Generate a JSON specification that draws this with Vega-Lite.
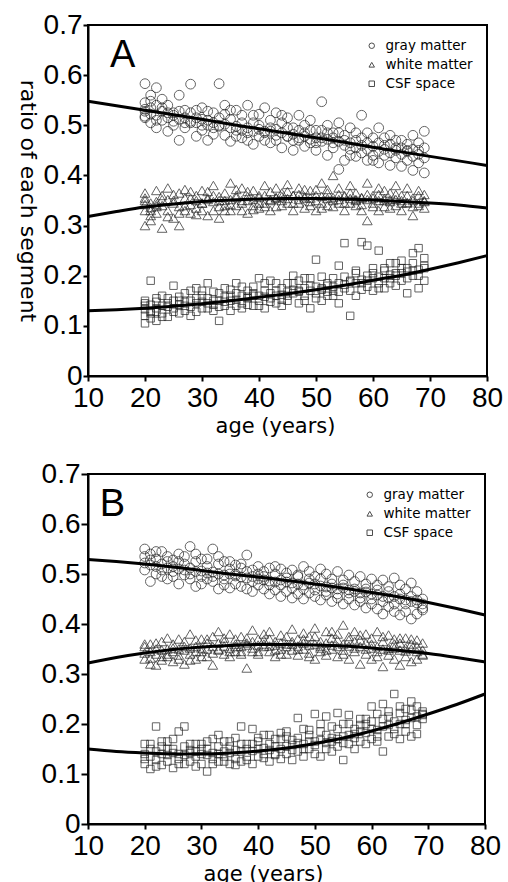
{
  "$schema": "https://vega.github.io/schema/vega-lite/v6.json",
  "background": "white",
  "padding": {"left": 15, "top": 10, "right": 0, "bottom": 0},
  "spacing": 22,
  "config": {
    "view": {"stroke": "black", "strokeWidth": 2},
    "axis": {
      "grid": false,
      "labelFont": "Liberation Sans",
      "labelFontSize": 28,
      "labelColor": "black",
      "labelFlush": false,
      "labelOverlap": false,
      "domainColor": "black",
      "domainWidth": 2,
      "tickColor": "black",
      "tickWidth": 2,
      "tickSize": 5,
      "titleFont": "DejaVu Sans",
      "titleFontWeight": "normal",
      "titleFontSize": 21,
      "titleColor": "black"
    },
    "legend": {
      "orient": "top-right",
      "offset": 14,
      "padding": 0,
      "labelFont": "DejaVu Sans",
      "labelFontSize": 13.5,
      "labelColor": "black",
      "symbolSize": 30,
      "symbolStrokeColor": "black",
      "symbolStrokeWidth": 1,
      "rowPadding": 4,
      "labelOffset": 7
    }
  },
  "resolve": {"scale": {"shape": "independent"}, "legend": {"shape": "independent"}},
  "datasets": {
    "A": [
      {"a":20,"g":0.583,"w":0.33,"c":0.12},{"a":20,"g":0.545,"w":0.35,"c":0.105},{"a":20,"g":0.515,"w":0.3,"c":0.15},{"a":20,"g":0.528,"w":0.365,"c":0.14},{"a":20,"g":0.532,"w":0.342,"c":0.133},{"a":20,"g":0.518,"w":0.355,"c":0.145},
      {"a":21,"g":0.56,"w":0.32,"c":0.19},{"a":21,"g":0.505,"w":0.345,"c":0.128},{"a":21,"g":0.535,"w":0.31,"c":0.115},{"a":21,"g":0.522,"w":0.336,"c":0.142},{"a":21,"g":0.548,"w":0.33,"c":0.125},
      {"a":22,"g":0.575,"w":0.338,"c":0.11},{"a":22,"g":0.52,"w":0.37,"c":0.155},{"a":22,"g":0.495,"w":0.325,"c":0.135},{"a":22,"g":0.54,"w":0.348,"c":0.128},{"a":22,"g":0.51,"w":0.342,"c":0.148},
      {"a":23,"g":0.552,"w":0.295,"c":0.16},{"a":23,"g":0.51,"w":0.36,"c":0.125},{"a":23,"g":0.528,"w":0.34,"c":0.14},{"a":23,"g":0.535,"w":0.352,"c":0.118},
      {"a":24,"g":0.54,"w":0.375,"c":0.145},{"a":24,"g":0.488,"w":0.33,"c":0.118},{"a":24,"g":0.515,"w":0.352,"c":0.138},{"a":24,"g":0.525,"w":0.318,"c":0.155},
      {"a":25,"g":0.525,"w":0.35,"c":0.18},{"a":25,"g":0.5,"w":0.315,"c":0.135},{"a":25,"g":0.52,"w":0.345,"c":0.15},{"a":25,"g":0.508,"w":0.362,"c":0.128},
      {"a":26,"g":0.56,"w":0.365,"c":0.125},{"a":26,"g":0.47,"w":0.3,"c":0.15},{"a":26,"g":0.512,"w":0.338,"c":0.142},{"a":26,"g":0.528,"w":0.325,"c":0.158},
      {"a":27,"g":0.53,"w":0.34,"c":0.165},{"a":27,"g":0.495,"w":0.372,"c":0.14},{"a":27,"g":0.515,"w":0.355,"c":0.148},{"a":27,"g":0.505,"w":0.33,"c":0.13},
      {"a":28,"g":0.582,"w":0.325,"c":0.17},{"a":28,"g":0.505,"w":0.355,"c":0.12},{"a":28,"g":0.508,"w":0.342,"c":0.15},{"a":28,"g":0.525,"w":0.368,"c":0.138},
      {"a":29,"g":0.515,"w":0.36,"c":0.155},{"a":29,"g":0.478,"w":0.335,"c":0.175},{"a":29,"g":0.505,"w":0.35,"c":0.145},{"a":29,"g":0.53,"w":0.322,"c":0.128},
      {"a":30,"g":0.535,"w":0.345,"c":0.135},{"a":30,"g":0.49,"w":0.37,"c":0.16},{"a":30,"g":0.512,"w":0.345,"c":0.148},{"a":30,"g":0.5,"w":0.33,"c":0.17},
      {"a":31,"g":0.51,"w":0.32,"c":0.185},{"a":31,"g":0.47,"w":0.355,"c":0.145},{"a":31,"g":0.5,"w":0.352,"c":0.155},{"a":31,"g":0.528,"w":0.368,"c":0.135},
      {"a":32,"g":0.525,"w":0.38,"c":0.13},{"a":32,"g":0.495,"w":0.33,"c":0.15},{"a":32,"g":0.505,"w":0.348,"c":0.142},{"a":32,"g":0.482,"w":0.36,"c":0.168},
      {"a":33,"g":0.583,"w":0.35,"c":0.11},{"a":33,"g":0.5,"w":0.315,"c":0.165},{"a":33,"g":0.498,"w":0.358,"c":0.15},{"a":33,"g":0.515,"w":0.338,"c":0.138},
      {"a":34,"g":0.54,"w":0.365,"c":0.175},{"a":34,"g":0.48,"w":0.34,"c":0.14},{"a":34,"g":0.502,"w":0.35,"c":0.158},{"a":34,"g":0.522,"w":0.33,"c":0.148},
      {"a":35,"g":0.512,"w":0.385,"c":0.15},{"a":35,"g":0.468,"w":0.33,"c":0.13},{"a":35,"g":0.495,"w":0.352,"c":0.16},{"a":35,"g":0.53,"w":0.342,"c":0.172},
      {"a":36,"g":0.53,"w":0.36,"c":0.165},{"a":36,"g":0.49,"w":0.34,"c":0.185},{"a":36,"g":0.498,"w":0.356,"c":0.152},{"a":36,"g":0.478,"w":0.372,"c":0.14},
      {"a":37,"g":0.505,"w":0.375,"c":0.145},{"a":37,"g":0.475,"w":0.345,"c":0.135},{"a":37,"g":0.49,"w":0.35,"c":0.16},{"a":37,"g":0.52,"w":0.33,"c":0.178},
      {"a":38,"g":0.54,"w":0.35,"c":0.17},{"a":38,"g":0.485,"w":0.325,"c":0.155},{"a":38,"g":0.495,"w":0.358,"c":0.158},{"a":38,"g":0.47,"w":0.368,"c":0.142},
      {"a":39,"g":0.52,"w":0.37,"c":0.16},{"a":39,"g":0.462,"w":0.34,"c":0.14},{"a":39,"g":0.488,"w":0.352,"c":0.165},{"a":39,"g":0.505,"w":0.332,"c":0.178},
      {"a":40,"g":0.5,"w":0.36,"c":0.195},{"a":40,"g":0.478,"w":0.335,"c":0.15},{"a":40,"g":0.492,"w":0.356,"c":0.16},{"a":40,"g":0.522,"w":0.345,"c":0.14},
      {"a":41,"g":0.535,"w":0.38,"c":0.17},{"a":41,"g":0.488,"w":0.345,"c":0.135},{"a":41,"g":0.485,"w":0.36,"c":0.158},{"a":41,"g":0.47,"w":0.338,"c":0.185},
      {"a":42,"g":0.495,"w":0.35,"c":0.19},{"a":42,"g":0.465,"w":0.33,"c":0.155},{"a":42,"g":0.488,"w":0.352,"c":0.165},{"a":42,"g":0.51,"w":0.368,"c":0.148},
      {"a":43,"g":0.525,"w":0.375,"c":0.16},{"a":43,"g":0.47,"w":0.355,"c":0.145},{"a":43,"g":0.48,"w":0.356,"c":0.17},{"a":43,"g":0.492,"w":0.338,"c":0.185},
      {"a":44,"g":0.505,"w":0.34,"c":0.175},{"a":44,"g":0.455,"w":0.365,"c":0.14},{"a":44,"g":0.485,"w":0.358,"c":0.162},{"a":44,"g":0.52,"w":0.35,"c":0.152},
      {"a":45,"g":0.515,"w":0.382,"c":0.185},{"a":45,"g":0.478,"w":0.345,"c":0.15},{"a":45,"g":0.478,"w":0.354,"c":0.168},{"a":45,"g":0.495,"w":0.368,"c":0.16},
      {"a":46,"g":0.495,"w":0.36,"c":0.165},{"a":46,"g":0.45,"w":0.33,"c":0.2},{"a":46,"g":0.482,"w":0.36,"c":0.172},{"a":46,"g":0.47,"w":0.345,"c":0.185},
      {"a":47,"g":0.52,"w":0.375,"c":0.17},{"a":47,"g":0.47,"w":0.345,"c":0.145},{"a":47,"g":0.475,"w":0.352,"c":0.168},{"a":47,"g":0.49,"w":0.362,"c":0.19},
      {"a":48,"g":0.5,"w":0.355,"c":0.195},{"a":48,"g":0.458,"w":0.335,"c":0.16},{"a":48,"g":0.478,"w":0.358,"c":0.175},{"a":48,"g":0.485,"w":0.372,"c":0.15},
      {"a":49,"g":0.51,"w":0.37,"c":0.18},{"a":49,"g":0.465,"w":0.34,"c":0.135},{"a":49,"g":0.472,"w":0.355,"c":0.17},{"a":49,"g":0.49,"w":0.348,"c":0.195},
      {"a":50,"g":0.49,"w":0.36,"c":0.232},{"a":50,"g":0.45,"w":0.33,"c":0.165},{"a":50,"g":0.475,"w":0.35,"c":0.178},{"a":50,"g":0.465,"w":0.372,"c":0.155},
      {"a":51,"g":0.547,"w":0.385,"c":0.175},{"a":51,"g":0.475,"w":0.345,"c":0.15},{"a":51,"g":0.468,"w":0.358,"c":0.172},{"a":51,"g":0.49,"w":0.335,"c":0.198},
      {"a":52,"g":0.5,"w":0.365,"c":0.185},{"a":52,"g":0.44,"w":0.34,"c":0.16},{"a":52,"g":0.472,"w":0.354,"c":0.18},{"a":52,"g":0.485,"w":0.372,"c":0.168},
      {"a":53,"g":0.485,"w":0.4,"c":0.17},{"a":53,"g":0.455,"w":0.35,"c":0.195},{"a":53,"g":0.465,"w":0.356,"c":0.178},{"a":53,"g":0.475,"w":0.338,"c":0.16},
      {"a":54,"g":0.505,"w":0.375,"c":0.22},{"a":54,"g":0.412,"w":0.345,"c":0.145},{"a":54,"g":0.468,"w":0.352,"c":0.185},{"a":54,"g":0.485,"w":0.362,"c":0.168},
      {"a":55,"g":0.48,"w":0.36,"c":0.265},{"a":55,"g":0.43,"w":0.33,"c":0.175},{"a":55,"g":0.46,"w":0.358,"c":0.182},{"a":55,"g":0.47,"w":0.345,"c":0.198},
      {"a":56,"g":0.495,"w":0.38,"c":0.12},{"a":56,"g":0.452,"w":0.345,"c":0.19},{"a":56,"g":0.465,"w":0.354,"c":0.188},{"a":56,"g":0.44,"w":0.365,"c":0.17},
      {"a":57,"g":0.47,"w":0.365,"c":0.205},{"a":57,"g":0.438,"w":0.34,"c":0.16},{"a":57,"g":0.455,"w":0.35,"c":0.185},{"a":57,"g":0.485,"w":0.352,"c":0.21},
      {"a":58,"g":0.52,"w":0.355,"c":0.267},{"a":58,"g":0.445,"w":0.33,"c":0.185},{"a":58,"g":0.46,"w":0.356,"c":0.192},{"a":58,"g":0.475,"w":0.342,"c":0.172},
      {"a":59,"g":0.485,"w":0.385,"c":0.26},{"a":59,"g":0.43,"w":0.31,"c":0.2},{"a":59,"g":0.452,"w":0.352,"c":0.19},{"a":59,"g":0.465,"w":0.362,"c":0.178},
      {"a":60,"g":0.475,"w":0.36,"c":0.215},{"a":60,"g":0.44,"w":0.345,"c":0.17},{"a":60,"g":0.458,"w":0.355,"c":0.195},{"a":60,"g":0.43,"w":0.338,"c":0.205},
      {"a":61,"g":0.495,"w":0.375,"c":0.25},{"a":61,"g":0.425,"w":0.33,"c":0.185},{"a":61,"g":0.448,"w":0.35,"c":0.198},{"a":61,"g":0.465,"w":0.362,"c":0.175},
      {"a":62,"g":0.46,"w":0.35,"c":0.21},{"a":62,"g":0.44,"w":0.37,"c":0.175},{"a":62,"g":0.452,"w":0.354,"c":0.195},{"a":62,"g":0.475,"w":0.338,"c":0.215},
      {"a":63,"g":0.48,"w":0.365,"c":0.225},{"a":63,"g":0.42,"w":0.335,"c":0.195},{"a":63,"g":0.445,"w":0.348,"c":0.202},{"a":63,"g":0.462,"w":0.352,"c":0.185},
      {"a":64,"g":0.455,"w":0.38,"c":0.205},{"a":64,"g":0.435,"w":0.34,"c":0.18},{"a":64,"g":0.45,"w":0.352,"c":0.2},{"a":64,"g":0.47,"w":0.362,"c":0.225},
      {"a":65,"g":0.47,"w":0.36,"c":0.23},{"a":65,"g":0.418,"w":0.33,"c":0.19},{"a":65,"g":0.442,"w":0.35,"c":0.205},{"a":65,"g":0.455,"w":0.345,"c":0.215},
      {"a":66,"g":0.45,"w":0.375,"c":0.215},{"a":66,"g":0.43,"w":0.345,"c":0.165},{"a":66,"g":0.448,"w":0.346,"c":0.208},{"a":66,"g":0.462,"w":0.36,"c":0.195},
      {"a":67,"g":0.48,"w":0.355,"c":0.245},{"a":67,"g":0.41,"w":0.32,"c":0.2},{"a":67,"g":0.438,"w":0.35,"c":0.21},{"a":67,"g":0.452,"w":0.338,"c":0.225},
      {"a":68,"g":0.465,"w":0.37,"c":0.255},{"a":68,"g":0.425,"w":0.34,"c":0.175},{"a":68,"g":0.442,"w":0.345,"c":0.212},{"a":68,"g":0.45,"w":0.36,"c":0.2},
      {"a":69,"g":0.488,"w":0.35,"c":0.22},{"a":69,"g":0.405,"w":0.335,"c":0.19},{"a":69,"g":0.435,"w":0.348,"c":0.215},{"a":69,"g":0.455,"w":0.362,"c":0.235}
    ],
    "B": [
      {"a":20,"g":0.55,"w":0.355,"c":0.16},{"a":20,"g":0.508,"w":0.33,"c":0.12},{"a":20,"g":0.522,"w":0.342,"c":0.14},{"a":20,"g":0.535,"w":0.36,"c":0.13},
      {"a":21,"g":0.54,"w":0.32,"c":0.15},{"a":21,"g":0.485,"w":0.36,"c":0.11},{"a":21,"g":0.518,"w":0.345,"c":0.135},{"a":21,"g":0.528,"w":0.332,"c":0.16},
      {"a":22,"g":0.53,"w":0.35,"c":0.195},{"a":22,"g":0.5,"w":0.318,"c":0.128},{"a":22,"g":0.515,"w":0.34,"c":0.145},{"a":22,"g":0.545,"w":0.362,"c":0.115},
      {"a":23,"g":0.545,"w":0.365,"c":0.118},{"a":23,"g":0.495,"w":0.335,"c":0.155},{"a":23,"g":0.52,"w":0.348,"c":0.14},{"a":23,"g":0.508,"w":0.328,"c":0.165},
      {"a":24,"g":0.535,"w":0.34,"c":0.165},{"a":24,"g":0.49,"w":0.372,"c":0.125},{"a":24,"g":0.512,"w":0.35,"c":0.138},{"a":24,"g":0.525,"w":0.335,"c":0.15},
      {"a":25,"g":0.528,"w":0.325,"c":0.15},{"a":25,"g":0.505,"w":0.36,"c":0.112},{"a":25,"g":0.515,"w":0.345,"c":0.142},{"a":25,"g":0.495,"w":0.352,"c":0.17},
      {"a":26,"g":0.54,"w":0.37,"c":0.185},{"a":26,"g":0.48,"w":0.338,"c":0.13},{"a":26,"g":0.51,"w":0.35,"c":0.14},{"a":26,"g":0.525,"w":0.33,"c":0.12},
      {"a":27,"g":0.52,"w":0.348,"c":0.195},{"a":27,"g":0.498,"w":0.32,"c":0.12},{"a":27,"g":0.508,"w":0.355,"c":0.138},{"a":27,"g":0.535,"w":0.365,"c":0.155},
      {"a":28,"g":0.555,"w":0.38,"c":0.16},{"a":28,"g":0.49,"w":0.34,"c":0.125},{"a":28,"g":0.512,"w":0.352,"c":0.142},{"a":28,"g":0.5,"w":0.328,"c":0.148},
      {"a":29,"g":0.525,"w":0.355,"c":0.145},{"a":29,"g":0.475,"w":0.33,"c":0.115},{"a":29,"g":0.505,"w":0.345,"c":0.135},{"a":29,"g":0.54,"w":0.368,"c":0.16},
      {"a":30,"g":0.53,"w":0.37,"c":0.16},{"a":30,"g":0.48,"w":0.345,"c":0.12},{"a":30,"g":0.506,"w":0.352,"c":0.14},{"a":30,"g":0.495,"w":0.335,"c":0.15},
      {"a":31,"g":0.515,"w":0.335,"c":0.15},{"a":31,"g":0.49,"w":0.362,"c":0.105},{"a":31,"g":0.502,"w":0.35,"c":0.138},{"a":31,"g":0.53,"w":0.37,"c":0.165},
      {"a":32,"g":0.55,"w":0.375,"c":0.17},{"a":32,"g":0.485,"w":0.318,"c":0.13},{"a":32,"g":0.504,"w":0.355,"c":0.142},{"a":32,"g":0.495,"w":0.342,"c":0.12},
      {"a":33,"g":0.52,"w":0.35,"c":0.178},{"a":33,"g":0.47,"w":0.385,"c":0.125},{"a":33,"g":0.5,"w":0.348,"c":0.14},{"a":33,"g":0.535,"w":0.362,"c":0.155},
      {"a":34,"g":0.525,"w":0.365,"c":0.165},{"a":34,"g":0.478,"w":0.34,"c":0.135},{"a":34,"g":0.498,"w":0.356,"c":0.145},{"a":34,"g":0.49,"w":0.372,"c":0.125},
      {"a":35,"g":0.51,"w":0.38,"c":0.155},{"a":35,"g":0.472,"w":0.335,"c":0.12},{"a":35,"g":0.5,"w":0.352,"c":0.142},{"a":35,"g":0.525,"w":0.345,"c":0.165},
      {"a":36,"g":0.518,"w":0.355,"c":0.172},{"a":36,"g":0.48,"w":0.345,"c":0.13},{"a":36,"g":0.496,"w":0.36,"c":0.148},{"a":36,"g":0.5,"w":0.37,"c":0.118},
      {"a":37,"g":0.512,"w":0.375,"c":0.195},{"a":37,"g":0.475,"w":0.34,"c":0.125},{"a":37,"g":0.494,"w":0.355,"c":0.145},{"a":37,"g":0.52,"w":0.345,"c":0.16},
      {"a":38,"g":0.538,"w":0.362,"c":0.16},{"a":38,"g":0.47,"w":0.312,"c":0.135},{"a":38,"g":0.492,"w":0.358,"c":0.15},{"a":38,"g":0.505,"w":0.372,"c":0.128},
      {"a":39,"g":0.508,"w":0.388,"c":0.19},{"a":39,"g":0.465,"w":0.345,"c":0.12},{"a":39,"g":0.495,"w":0.352,"c":0.146},{"a":39,"g":0.485,"w":0.365,"c":0.16},
      {"a":40,"g":0.515,"w":0.37,"c":0.165},{"a":40,"g":0.478,"w":0.34,"c":0.135},{"a":40,"g":0.49,"w":0.358,"c":0.15},{"a":40,"g":0.5,"w":0.345,"c":0.172},
      {"a":41,"g":0.505,"w":0.355,"c":0.178},{"a":41,"g":0.47,"w":0.38,"c":0.14},{"a":41,"g":0.488,"w":0.36,"c":0.152},{"a":41,"g":0.495,"w":0.368,"c":0.132},
      {"a":42,"g":0.512,"w":0.385,"c":0.16},{"a":42,"g":0.46,"w":0.345,"c":0.125},{"a":42,"g":0.486,"w":0.356,"c":0.148},{"a":42,"g":0.478,"w":0.37,"c":0.178},
      {"a":43,"g":0.5,"w":0.365,"c":0.17},{"a":43,"g":0.468,"w":0.335,"c":0.138},{"a":43,"g":0.484,"w":0.358,"c":0.155},{"a":43,"g":0.515,"w":0.348,"c":0.14},
      {"a":44,"g":0.51,"w":0.378,"c":0.182},{"a":44,"g":0.455,"w":0.35,"c":0.13},{"a":44,"g":0.488,"w":0.362,"c":0.15},{"a":44,"g":0.478,"w":0.34,"c":0.17},
      {"a":45,"g":0.502,"w":0.36,"c":0.175},{"a":45,"g":0.465,"w":0.34,"c":0.14},{"a":45,"g":0.484,"w":0.355,"c":0.156},{"a":45,"g":0.492,"w":0.375,"c":0.185},
      {"a":46,"g":0.508,"w":0.39,"c":0.168},{"a":46,"g":0.452,"w":0.348,"c":0.128},{"a":46,"g":0.482,"w":0.36,"c":0.158},{"a":46,"g":0.472,"w":0.365,"c":0.148},
      {"a":47,"g":0.498,"w":0.37,"c":0.212},{"a":47,"g":0.46,"w":0.338,"c":0.145},{"a":47,"g":0.48,"w":0.356,"c":0.162},{"a":47,"g":0.495,"w":0.35,"c":0.172},
      {"a":48,"g":0.515,"w":0.382,"c":0.19},{"a":48,"g":0.45,"w":0.35,"c":0.135},{"a":48,"g":0.478,"w":0.362,"c":0.16},{"a":48,"g":0.47,"w":0.37,"c":0.15},
      {"a":49,"g":0.505,"w":0.375,"c":0.178},{"a":49,"g":0.462,"w":0.342,"c":0.15},{"a":49,"g":0.482,"w":0.358,"c":0.165},{"a":49,"g":0.49,"w":0.335,"c":0.188},
      {"a":50,"g":0.495,"w":0.392,"c":0.22},{"a":50,"g":0.455,"w":0.33,"c":0.14},{"a":50,"g":0.48,"w":0.36,"c":0.165},{"a":50,"g":0.468,"w":0.375,"c":0.158},
      {"a":51,"g":0.51,"w":0.365,"c":0.185},{"a":51,"g":0.448,"w":0.345,"c":0.135},{"a":51,"g":0.476,"w":0.356,"c":0.168},{"a":51,"g":0.49,"w":0.352,"c":0.2},
      {"a":52,"g":0.5,"w":0.385,"c":0.215},{"a":52,"g":0.458,"w":0.338,"c":0.15},{"a":52,"g":0.474,"w":0.362,"c":0.162},{"a":52,"g":0.465,"w":0.348,"c":0.178},
      {"a":53,"g":0.49,"w":0.372,"c":0.195},{"a":53,"g":0.445,"w":0.35,"c":0.145},{"a":53,"g":0.472,"w":0.358,"c":0.172},{"a":53,"g":0.48,"w":0.385,"c":0.165},
      {"a":54,"g":0.505,"w":0.38,"c":0.222},{"a":54,"g":0.452,"w":0.335,"c":0.155},{"a":54,"g":0.47,"w":0.355,"c":0.17},{"a":54,"g":0.46,"w":0.368,"c":0.19},
      {"a":55,"g":0.488,"w":0.398,"c":0.2},{"a":55,"g":0.44,"w":0.34,"c":0.128},{"a":55,"g":0.472,"w":0.36,"c":0.175},{"a":55,"g":0.478,"w":0.348,"c":0.162},
      {"a":56,"g":0.498,"w":0.375,"c":0.218},{"a":56,"g":0.45,"w":0.33,"c":0.16},{"a":56,"g":0.468,"w":0.356,"c":0.178},{"a":56,"g":0.462,"w":0.368,"c":0.2},
      {"a":57,"g":0.485,"w":0.385,"c":0.19},{"a":57,"g":0.438,"w":0.345,"c":0.15},{"a":57,"g":0.465,"w":0.352,"c":0.172},{"a":57,"g":0.47,"w":0.365,"c":0.18},
      {"a":58,"g":0.495,"w":0.368,"c":0.21},{"a":58,"g":0.445,"w":0.32,"c":0.165},{"a":58,"g":0.462,"w":0.355,"c":0.185},{"a":58,"g":0.452,"w":0.378,"c":0.198},
      {"a":59,"g":0.48,"w":0.38,"c":0.2},{"a":59,"g":0.432,"w":0.34,"c":0.16},{"a":59,"g":0.464,"w":0.35,"c":0.182},{"a":59,"g":0.47,"w":0.362,"c":0.21},
      {"a":60,"g":0.49,"w":0.372,"c":0.235},{"a":60,"g":0.44,"w":0.33,"c":0.17},{"a":60,"g":0.46,"w":0.352,"c":0.19},{"a":60,"g":0.45,"w":0.36,"c":0.205},
      {"a":61,"g":0.478,"w":0.385,"c":0.22},{"a":61,"g":0.43,"w":0.345,"c":0.165},{"a":61,"g":0.458,"w":0.355,"c":0.188},{"a":61,"g":0.468,"w":0.335,"c":0.175},
      {"a":62,"g":0.488,"w":0.365,"c":0.24},{"a":62,"g":0.42,"w":0.315,"c":0.145},{"a":62,"g":0.455,"w":0.35,"c":0.195},{"a":62,"g":0.445,"w":0.375,"c":0.21},
      {"a":63,"g":0.475,"w":0.378,"c":0.225},{"a":63,"g":0.435,"w":0.338,"c":0.175},{"a":63,"g":0.452,"w":0.348,"c":0.198},{"a":63,"g":0.465,"w":0.352,"c":0.215},
      {"a":64,"g":0.492,"w":0.37,"c":0.26},{"a":64,"g":0.425,"w":0.33,"c":0.18},{"a":64,"g":0.455,"w":0.352,"c":0.205},{"a":64,"g":0.44,"w":0.36,"c":0.19},
      {"a":65,"g":0.478,"w":0.362,"c":0.235},{"a":65,"g":0.418,"w":0.318,"c":0.17},{"a":65,"g":0.45,"w":0.348,"c":0.2},{"a":65,"g":0.46,"w":0.372,"c":0.222},
      {"a":66,"g":0.47,"w":0.372,"c":0.23},{"a":66,"g":0.425,"w":0.335,"c":0.185},{"a":66,"g":0.448,"w":0.346,"c":0.208},{"a":66,"g":0.44,"w":0.352,"c":0.2},
      {"a":67,"g":0.482,"w":0.36,"c":0.245},{"a":67,"g":0.41,"w":0.325,"c":0.175},{"a":67,"g":0.445,"w":0.35,"c":0.212},{"a":67,"g":0.455,"w":0.37,"c":0.228},
      {"a":68,"g":0.465,"w":0.368,"c":0.235},{"a":68,"g":0.42,"w":0.33,"c":0.18},{"a":68,"g":0.442,"w":0.345,"c":0.215},{"a":68,"g":0.448,"w":0.355,"c":0.198},
      {"a":69,"g":0.45,"w":0.362,"c":0.22},{"a":69,"g":0.428,"w":0.338,"c":0.21},{"a":69,"g":0.44,"w":0.348,"c":0.218},{"a":69,"g":0.432,"w":0.34,"c":0.225}
    ],
    "LA": [
      {"a":10,"g":0.548,"w":0.318,"c":0.13},{"a":15,"g":0.539,"w":0.328,"c":0.132},{"a":20,"g":0.53,"w":0.337,"c":0.135},
      {"a":25,"g":0.521,"w":0.343,"c":0.139},{"a":30,"g":0.512,"w":0.348,"c":0.144},{"a":35,"g":0.502,"w":0.351,"c":0.15},
      {"a":40,"g":0.493,"w":0.353,"c":0.157},{"a":45,"g":0.484,"w":0.354,"c":0.164},{"a":50,"g":0.475,"w":0.354,"c":0.172},
      {"a":55,"g":0.466,"w":0.353,"c":0.181},{"a":60,"g":0.456,"w":0.351,"c":0.191},{"a":65,"g":0.447,"w":0.348,"c":0.201},
      {"a":70,"g":0.438,"w":0.345,"c":0.213},{"a":75,"g":0.429,"w":0.341,"c":0.226},{"a":80,"g":0.42,"w":0.335,"c":0.24}
    ],
    "LB": [
      {"a":10,"g":0.529,"w":0.322,"c":0.15},{"a":15,"g":0.525,"w":0.333,"c":0.145},{"a":20,"g":0.52,"w":0.342,"c":0.142},
      {"a":25,"g":0.514,"w":0.349,"c":0.14},{"a":30,"g":0.507,"w":0.354,"c":0.14},{"a":35,"g":0.5,"w":0.357,"c":0.142},
      {"a":40,"g":0.494,"w":0.359,"c":0.146},{"a":45,"g":0.487,"w":0.359,"c":0.152},{"a":50,"g":0.48,"w":0.358,"c":0.161},
      {"a":55,"g":0.472,"w":0.356,"c":0.172},{"a":60,"g":0.463,"w":0.352,"c":0.186},{"a":65,"g":0.454,"w":0.347,"c":0.202},
      {"a":70,"g":0.443,"w":0.341,"c":0.22},{"a":75,"g":0.431,"w":0.333,"c":0.239},{"a":80,"g":0.418,"w":0.324,"c":0.26}
    ]
  },
  "vconcat": [
    {
      "width": 399,
      "height": 351,
      "layer": [
        {
          "data": {"name": "A"},
          "transform": [{"fold": ["g", "w", "c"], "as": ["k", "v"]}],
          "mark": {"type": "point", "filled": false, "stroke": "#222222", "strokeWidth": 1},
          "encoding": {
            "x": {"field": "a", "type": "quantitative", "scale": {"domain": [10, 80], "nice": false},
                  "axis": {"title": "age (years)", "values": [10, 20, 30, 40, 50, 60, 70, 80], "labelPadding": 3, "titlePadding": 3, "titleX": 187}},
            "y": {"field": "v", "type": "quantitative", "scale": {"domain": [0, 0.7], "nice": false},
                  "axis": {"title": "ratio of each segment", "titleAngle": 90, "titleBaseline": "top", "titleFontSize": 22, "values": [0, 0.1, 0.2, 0.3, 0.4, 0.5, 0.6, 0.7], "format": "~g", "labelPadding": 1, "titlePadding": 6}},
            "shape": {"field": "k", "type": "nominal", "scale": {"domain": ["g", "w", "c"], "range": ["circle", "triangle-up", "square"]},
                      "legend": {"title": null, "orient": "top-right", "labelExpr": "datum.label == 'g' ? 'gray matter' : datum.label == 'w' ? 'white matter' : 'CSF space'"}},
            "size": {"condition": {"test": "datum.k == 'c'", "value": 55}, "value": 95}
          }
        },
        {
          "data": {"name": "LA"},
          "transform": [{"fold": ["g", "w", "c"], "as": ["k", "v"]}],
          "mark": {"type": "line", "color": "black", "strokeWidth": 3, "interpolate": "monotone"},
          "encoding": {
            "x": {"field": "a", "type": "quantitative"},
            "y": {"field": "v", "type": "quantitative"},
            "detail": {"field": "k"}
          }
        },
        {
          "data": {"values": [{"t": "A", "a": 16.1, "v": 0.638}]},
          "mark": {"type": "text", "font": "Liberation Sans", "fontSize": 38, "baseline": "middle", "align": "center", "color": "black"},
          "encoding": {
            "x": {"field": "a", "type": "quantitative"},
            "y": {"field": "v", "type": "quantitative"},
            "text": {"field": "t"}
          }
        }
      ]
    },
    {
      "width": 397,
      "height": 350,
      "layer": [
        {
          "data": {"name": "B"},
          "transform": [{"fold": ["g", "w", "c"], "as": ["k", "v"]}],
          "mark": {"type": "point", "filled": false, "stroke": "#222222", "strokeWidth": 1},
          "encoding": {
            "x": {"field": "a", "type": "quantitative", "scale": {"domain": [10, 80], "nice": false},
                  "axis": {"title": "age (years)", "values": [10, 20, 30, 40, 50, 60, 70, 80], "labelPadding": 3, "titlePadding": 3, "titleX": 175}},
            "y": {"field": "v", "type": "quantitative", "scale": {"domain": [0, 0.7], "nice": false},
                  "axis": {"title": null, "values": [0, 0.1, 0.2, 0.3, 0.4, 0.5, 0.6, 0.7], "format": "~g", "labelPadding": 1, "tickSize": 7}},
            "shape": {"field": "k", "type": "nominal", "scale": {"domain": ["g", "w", "c"], "range": ["circle", "triangle-up", "square"]},
                      "legend": {"title": null, "orient": "top-right", "labelExpr": "datum.label == 'g' ? 'gray matter' : datum.label == 'w' ? 'white matter' : 'CSF space'"}},
            "size": {"condition": {"test": "datum.k == 'c'", "value": 55}, "value": 95}
          }
        },
        {
          "data": {"name": "LB"},
          "transform": [{"fold": ["g", "w", "c"], "as": ["k", "v"]}],
          "mark": {"type": "line", "color": "black", "strokeWidth": 3, "interpolate": "monotone"},
          "encoding": {
            "x": {"field": "a", "type": "quantitative"},
            "y": {"field": "v", "type": "quantitative"},
            "detail": {"field": "k"}
          }
        },
        {
          "data": {"values": [{"t": "B", "a": 14.3, "v": 0.638}]},
          "mark": {"type": "text", "font": "Liberation Sans", "fontSize": 38, "baseline": "middle", "align": "center", "color": "black"},
          "encoding": {
            "x": {"field": "a", "type": "quantitative"},
            "y": {"field": "v", "type": "quantitative"},
            "text": {"field": "t"}
          }
        }
      ]
    }
  ]
}
